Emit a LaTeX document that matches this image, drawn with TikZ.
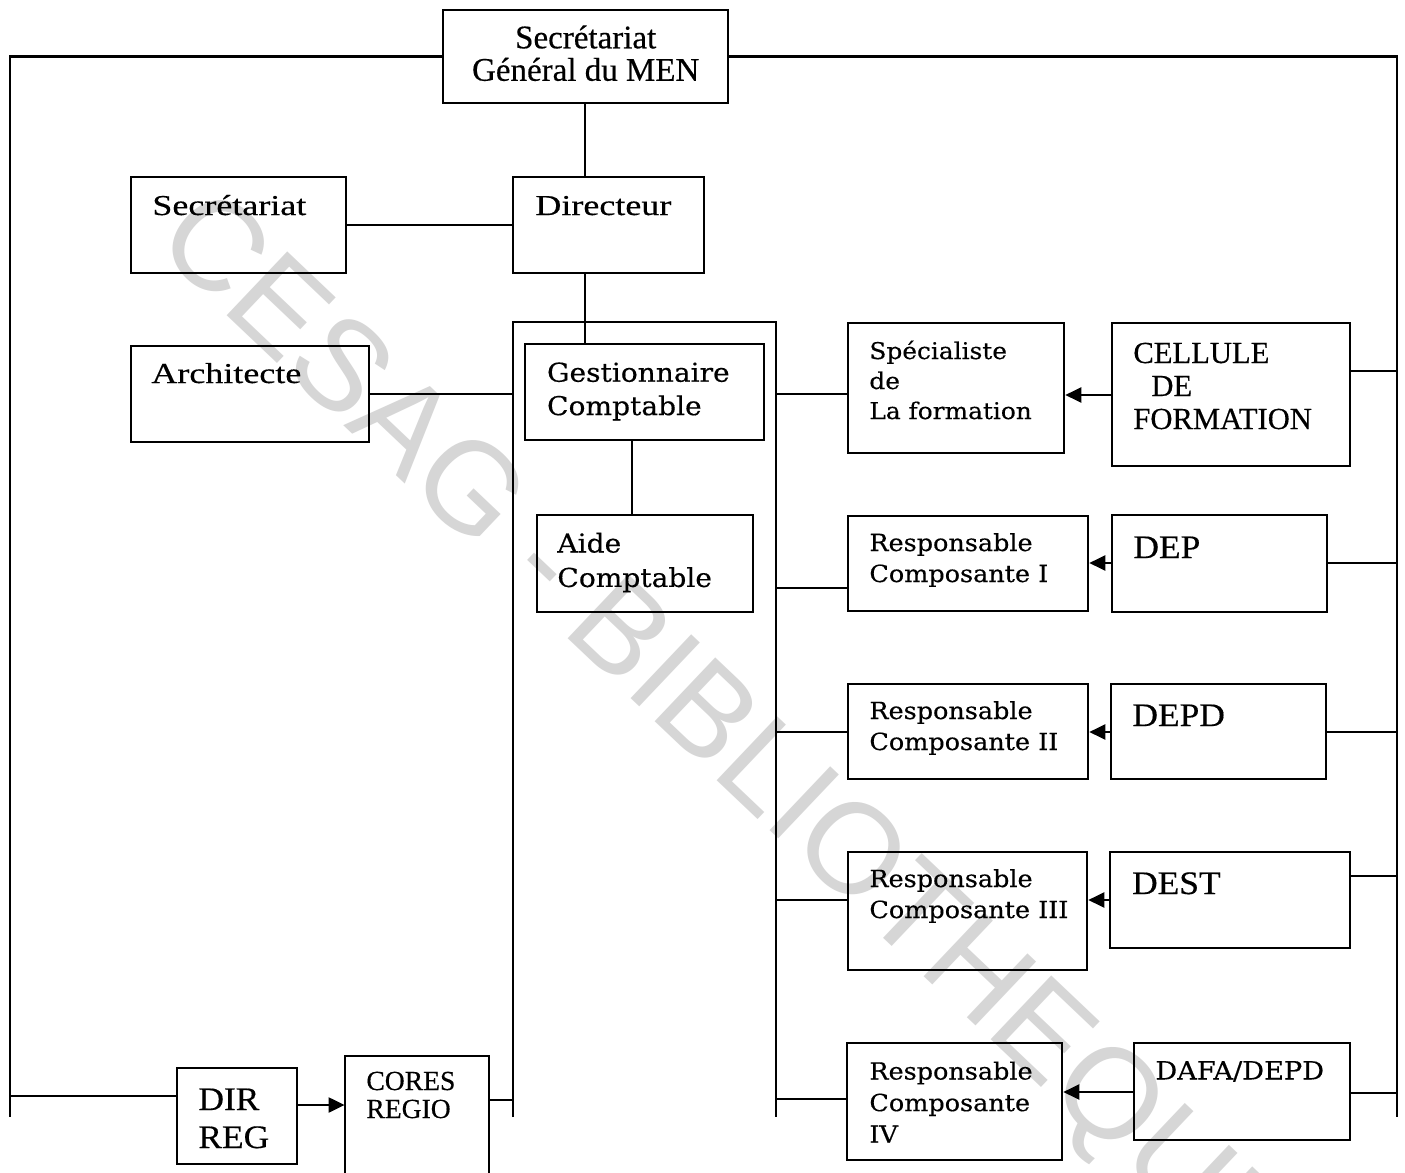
\documentclass[tikz,border=0pt]{standalone}
\usepackage{fontspec}
\setmainfont{Liberation Serif}
\newfontfamily\tmsN[FakeBold=0.4]{Liberation Serif}
\newfontfamily\tmsM[FakeStretch=1.08,FakeBold=0.4]{Liberation Serif}
\newfontfamily\tmsW[FakeStretch=1.25,FakeBold=0.4]{Liberation Serif}
\newfontfamily\bkm[FakeStretch=1.08,FakeBold=0.4]{DejaVu Serif}
\newfontfamily\wmk{Liberation Sans}
\usetikzlibrary{arrows.meta,fit}

% #1 family, #2 size, #3 baselineskip, #4 lines (first line is the baseline)
\newcommand\txtlines[4]{{#1\fontsize{#2}{#3}\selectfont\begin{tabular}[t]{@{}l@{}}#4\end{tabular}}}
\newcommand\txtcentre[4]{{#1\fontsize{#2}{#3}\selectfont\begin{tabular}[t]{@{}c@{}}#4\end{tabular}}}

\begin{document}
\begin{tikzpicture}[x=0.5pt,y=-0.5pt,
  box/.style={draw, line width=1.3pt, inner sep=0pt},
  boxline/.style={line width=1.0pt},
  conn/.style={line width=1.1pt},
  arr/.style={line width=1.1pt, -{Triangle[length=8pt,width=7.5pt]}},
  lbl/.style={anchor=base west, inner sep=0pt}]
\useasboundingbox (0,0) rectangle (1405,1173);
\fill[white] (0,0) rectangle (1405,1173);

% watermark
\node[rotate=-43.5, text=black!16, inner sep=0pt] (wm) at (722,740)
  {\wmk\fontsize{64}{64}\selectfont CESAG - BIBLIOTHEQUE};

% boxes
\node[box, fit={(443,10) (728,103)}] (sg) {};
\node[box, fit={(131,177) (346,273)}] (sec) {};
\node[box, fit={(513,177) (704,273)}] (dir) {};
\node[box, fit={(131,346) (369,442)}] (arch) {};
\node[box, fit={(525,344) (764,440)}] (gest) {};
\node[box, fit={(537,515) (753,612)}] (aide) {};
\node[box, fit={(848,323) (1064,453)}] (spec) {};
\node[box, fit={(1112,323) (1350,466)}] (cell) {};
\node[box, fit={(848,516) (1088,611)}] (rA) {};
\node[box, fit={(1112,515) (1327,612)}] (dep) {};
\node[box, fit={(848,684) (1088,779)}] (rB) {};
\node[box, fit={(1111,684) (1326,779)}] (depd) {};
\node[box, fit={(848,852) (1087,970)}] (rC) {};
\node[box, fit={(1110,852) (1350,948)}] (dest) {};
\node[box, fit={(847,1043) (1062,1160)}] (rD) {};
\node[box, fit={(1134,1043) (1350,1140)}] (dafa) {};
\node[box, fit={(177,1068) (297,1164)}] (dirreg) {};
\node[inner sep=0pt, fit={(345,1056) (489,1173)}] (cores) {};
\draw[boxline] (cores.south west) |- (cores.north east) -- (cores.south east);

% texts
\node[anchor=base, inner sep=0pt] (sgt) at (585.7,48.3)
  {\txtcentre{\tmsN}{16.5}{15.85}{Secrétariat\\Général du MEN}};
\node[lbl] (sect) at (152,215) {\txtlines{\tmsW}{14.4}{17}{Secrétariat}};
\node[lbl] (dirt) at (535,215) {\txtlines{\tmsW}{14.4}{17}{Directeur}};
\node[lbl] (archt) at (151,383) {\txtlines{\tmsW}{14.4}{17}{Architecte}};
\node[lbl] (gestt) at (546.7,381.7) {\txtlines{\bkm}{13}{16.7}{Gestionnaire\\Comptable}};
\node[lbl] (aidet) at (557,552.5) {\txtlines{\bkm}{13}{17.2}{Aide\\Comptable}};
\node[lbl] (spect) at (869,359) {\txtlines{\bkm}{11.5}{15}{Spécialiste\\de\\La formation}};
\node[lbl] (cellt) at (1133,363) {\txtlines{\tmsN}{15.3}{16.5}{CELLULE\\\hspace*{9pt}DE\\FORMATION}};
\node[lbl] (rAt) at (869,551) {\txtlines{\bkm}{11.8}{15.5}{Responsable\\Composante I}};
\node[lbl] (dept) at (1133,558) {\txtlines{\tmsM}{16.4}{18}{DEP}};
\node[lbl] (rBt) at (869,719) {\txtlines{\bkm}{11.8}{15.5}{Responsable\\Composante II}};
\node[lbl] (depdt) at (1132,726) {\txtlines{\tmsM}{16.4}{18}{DEPD}};
\node[lbl] (rCt) at (869,887) {\txtlines{\bkm}{11.8}{15.5}{Responsable\\Composante III}};
\node[lbl] (destt) at (1131.7,894) {\txtlines{\tmsM}{16.4}{18}{DEST}};
\node[lbl] (rDt) at (869,1079.5) {\txtlines{\bkm}{11.8}{15.8}{Responsable\\Composante\\IV}};
\node[lbl] (dafat) at (1155,1079.5) {\txtlines{\bkm}{12.6}{16}{DAFA/DEPD}};
\node[lbl] (dirregt) at (198,1110) {\txtlines{\tmsM}{16.4}{19}{DIR\\REG}};
\node[lbl] (corest) at (366,1090) {\txtlines{\tmsN}{13.8}{14}{CORES\\REGIO}};

% rails and rail ends
\coordinate (lbot) at (10,1117);
\coordinate (rbot) at (1397,1117);
\coordinate (ctl) at (513,322);
\coordinate (ctr) at (776,322);
\coordinate (cbl) at (513,1117);
\coordinate (cbr) at (776,1117);
\coordinate (vx) at (585,0);
\coordinate (gx) at (632,0);

% outer frame from the Secretariat General
\draw[conn] (sg.west) -| (lbot);
\draw[conn] (sg.east) -| (rbot);

% central hierarchy
\draw[conn] (sg.south -| vx) -- (dir.north -| vx);
\draw[conn] (sec.east) -- (dir.west);
\draw[conn] (dir.south -| vx) -- (gest.north -| vx);
\draw[conn] (gest.south -| gx) -- (aide.north -| gx);

% container round the accounting service
\draw[conn] (cbl) -- (ctl) -- (ctr) -- (cbr);
\draw[conn] (arch.east) -- (arch.east -| ctl);

% container branches to the component heads
\coordinate (bA) at (776,394);
\coordinate (bB) at (776,588);
\coordinate (bC) at (776,732);
\coordinate (bD) at (776,900);
\coordinate (bE) at (776,1099);
\draw[conn] (bA) -- (bA -| spec.west);
\draw[conn] (bB) -- (bB -| rA.west);
\draw[conn] (bC) -- (bC -| rB.west);
\draw[conn] (bD) -- (bD -| rC.west);
\draw[conn] (bE) -- (bE -| rD.west);

% right rail branches
\coordinate (qA) at (1397,371);
\coordinate (qB) at (1397,563);
\coordinate (qC) at (1397,732);
\coordinate (qD) at (1397,876);
\coordinate (qE) at (1397,1093);
\draw[conn] (qA -| cell.east) -- (qA);
\draw[conn] (qB -| dep.east) -- (qB);
\draw[conn] (qC -| depd.east) -- (qC);
\draw[conn] (qD -| dest.east) -- (qD);
\draw[conn] (qE -| dafa.east) -- (qE);

% arrows from the directorates to the component heads
\coordinate (aA) at (0,395);
\coordinate (aB) at (0,563);
\coordinate (aC) at (0,732);
\coordinate (aD) at (0,900);
\coordinate (aE) at (0,1092);
\draw[arr] (aA -| cell.west) -- (aA -| spec.east);
\draw[arr] (aB -| dep.west) -- (aB -| rA.east);
\draw[arr] (aC -| depd.west) -- (aC -| rB.east);
\draw[arr] (aD -| dest.west) -- (aD -| rC.east);
\draw[arr] (aE -| dafa.west) -- (aE -| rD.east);

% regional branch
\coordinate (lreg) at (10,1096);
\coordinate (aF) at (0,1105);
\coordinate (cG) at (0,1100);
\draw[conn] (lreg) -- (lreg -| dirreg.west);
\draw[arr] (aF -| dirreg.east) -- (aF -| cores.west);
\draw[conn] (cG -| cores.east) -- (cG -| ctl);
\end{tikzpicture}
\end{document}
